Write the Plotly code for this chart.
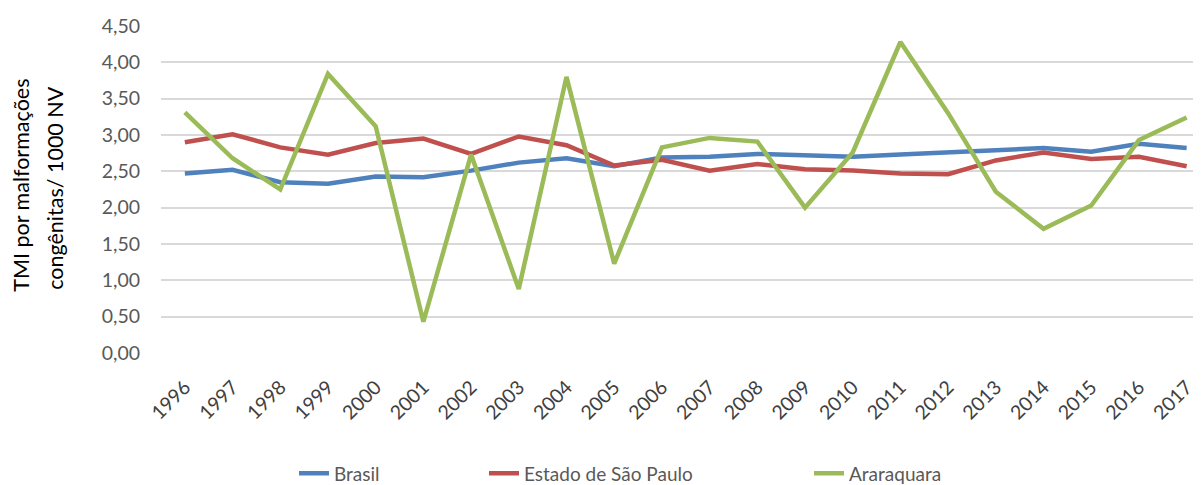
import plotly.graph_objects as go

years = [str(y) for y in range(1996, 2018)]
brasil = [2.47, 2.52, 2.35, 2.33, 2.43, 2.42, 2.51, 2.62, 2.68, 2.57, 2.69, 2.70,
          2.74, 2.72, 2.70, 2.73, 2.76, 2.79, 2.82, 2.77, 2.88, 2.82]
sao_paulo = [2.90, 3.01, 2.83, 2.73, 2.89, 2.95, 2.74, 2.98, 2.86, 2.58, 2.66, 2.51,
             2.60, 2.53, 2.51, 2.47, 2.46, 2.65, 2.76, 2.67, 2.70, 2.57]
araraquara = [3.31, 2.68, 2.25, 3.84, 3.12, 0.43, 2.73, 0.88, 3.80, 1.23, 2.83, 2.96,
              2.91, 2.00, 2.76, 4.28, 3.30, 2.22, 1.71, 2.03, 2.93, 3.24]
y_ticks = [0, 0.5, 1.0, 1.5, 2.0, 2.5, 3.0, 3.5, 4.0, 4.5]

FONT = "Lato"
OFF = 8  # page body margin
W, H = 1201 - OFF, 485 - OFF
ML, MR, MT, MB = 161 - OFF, 1, 26 - OFF, 485 - 353.5
PW = W - ML - MR
PH = H - MT - MB

def px_x(x):
    return (x - OFF - ML) / PW

def px_y(y):
    return (H - MB - (y - OFF)) / PH

fig = go.Figure()
series = [("Brasil", brasil, "#4f81bd", "legend", 294),
          ("Estado de São Paulo", sao_paulo, "#c0504d", "legend2", 484),
          ("Araraquara", araraquara, "#9bbb59", "legend3", 809)]
for name, vals, col, leg, _ in series:
    fig.add_trace(go.Scatter(x=years, y=vals, name=name, mode="lines",
                             line=dict(color=col, width=4.5), legend=leg))

layout_legends = {}
for name, vals, col, leg, xpx in series:
    layout_legends[leg] = dict(orientation="h", yanchor="middle", xanchor="left",
                               font=dict(family=FONT, size=19, color="#595959"),
                               bgcolor="rgba(0,0,0,0)",
                               x=px_x(xpx), y=px_y(474))

fig.update_layout(
    width=W, height=H,
    margin=dict(l=ML, r=MR, t=MT, b=MB, autoexpand=False),
    paper_bgcolor="white", plot_bgcolor="white",
    separators=",.",
    showlegend=True,
    font=dict(family=FONT, size=19, color="#595959"),
    xaxis=dict(type="category", range=[-0.5, 21.28], showgrid=False,
               showline=False, ticks="", tickangle=-45, automargin=False,
               ticklabelstandoff=18,
               tickfont=dict(family=FONT, size=19.5, color="#404040")),
    yaxis=dict(range=[0, 4.5], tickvals=y_ticks, tickformat=".2f",
               showgrid=True, gridcolor="#d9d9d9", gridwidth=1.5,
               zeroline=False, showline=False, ticks="", automargin=False,
               tickfont=dict(family=FONT, size=19.5, color="#595959"),
               ticklabelstandoff=20),
    annotations=[
        dict(text="TMI por malformações", xref="paper", yref="paper",
             x=px_x(21), y=px_y(186), xanchor="center", yanchor="middle",
             textangle=-90, showarrow=False,
             font=dict(family=FONT, size=21.5, color="#000000")),
        dict(text="congênitas/ 1000 NV", xref="paper", yref="paper",
             x=px_x(55), y=px_y(188), xanchor="center", yanchor="middle",
             textangle=-90, showarrow=False,
             font=dict(family=FONT, size=21.5, color="#000000")),
    ],
    **layout_legends,
)

fig.write_html("out.html")
